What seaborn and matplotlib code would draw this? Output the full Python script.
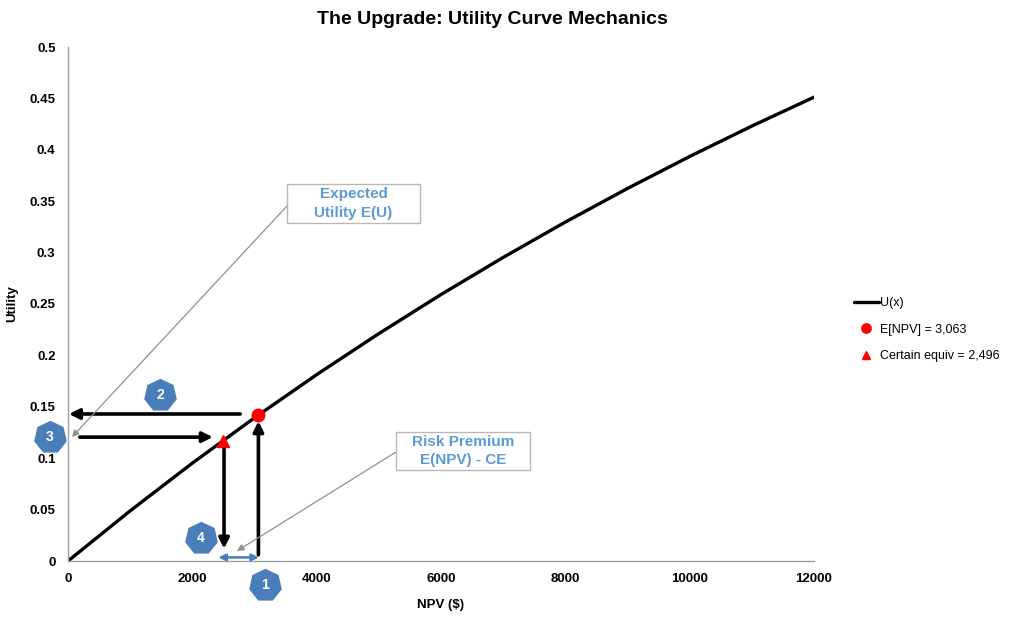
import numpy as np
import pandas as pd
import matplotlib
matplotlib.use("Agg")
import matplotlib.pyplot as plt
import seaborn as sns
from matplotlib.patches import FancyArrowPatch, Rectangle

# ---- data ----
npv_grid = [0, 1000, 2000, 3000, 4000, 5000, 6000, 7000, 8000, 9000, 10000, 11000, 12000]
utility = [0.0, 0.0488, 0.0952, 0.1393, 0.1813, 0.2212, 0.2592, 0.2953, 0.3297, 0.3624, 0.3935, 0.4231, 0.4512]
expected_npv = 3063
expected_u = 0.142
certain_equiv = 2496
ce_u = 0.117
x_ticks = [0, 2000, 4000, 6000, 8000, 10000, 12000]
y_ticks = [0, 0.05, 0.1, 0.15, 0.2, 0.25, 0.3, 0.35, 0.4, 0.45, 0.5]
y_tick_labels = ["0", "0.05", "0.1", "0.15", "0.2", "0.25", "0.3", "0.35", "0.4", "0.45", "0.5"]

sns.set_theme(style="white")
plt.rcParams['font.family'] = ['Liberation Sans', 'DejaVu Sans']
plt.rcParams['text.color'] = 'black'

W, H = 1010, 617
fig = plt.figure(figsize=(10.1, 6.17), dpi=100)
ax = fig.add_axes([68 / W, 1 - 561 / H, 746 / W, 514 / H])

df = pd.DataFrame({"NPV": npv_grid, "U": utility})
sns.lineplot(data=df, x="NPV", y="U", ax=ax, color="black", linewidth=2.4, label="U(x)")
ax.plot([expected_npv], [expected_u], 'o', color="red", markersize=9, label="E[NPV] = 3,063", zorder=5)
ax.plot([certain_equiv], [ce_u], '^', color="red", markersize=8, label="Certain equiv = 2,496", zorder=5)

ax.set_xlim(0, 12000)
ax.set_ylim(0, 0.5)
ax.set_xticks(x_ticks)
ax.set_xticklabels([str(t) for t in x_ticks], fontweight="bold", fontsize=9.5, color="black")
ax.set_yticks(y_ticks)
ax.set_yticklabels(y_tick_labels, fontweight="bold", fontsize=9.5, color="black")
ax.tick_params(length=0, pad=9)
for s in ["top", "right"]:
    ax.spines[s].set_visible(False)
for s in ["left", "bottom"]:
    ax.spines[s].set_color("#a0a0a0")
    ax.spines[s].set_linewidth(1)
ax.set_xlabel("NPV ($)", fontweight="bold", fontsize=9.5, labelpad=10, color="black")
ax.set_ylabel("Utility", fontweight="bold", fontsize=9.5, labelpad=8, color="black")
fig.text(492 / W, 1 - 19 / H, "The Upgrade: Utility Curve Mechanics", fontweight="bold",
         fontsize=14, ha="center", va="center", color="black")

leg = ax.legend(loc="center left", bbox_to_anchor=(1.038, 0.45), frameon=False, fontsize=9,
                handlelength=2.0, handletextpad=0.1, labelspacing=1.15, markerscale=0.75)

def arrow(x0, y0, x1, y1, color="black", lw=2.6, style="-|>", ms=15):
    a = FancyArrowPatch((x0, y0), (x1, y1), arrowstyle=style, mutation_scale=ms,
                        color=color, lw=lw, shrinkA=0, shrinkB=0, zorder=4, clip_on=False)
    ax.add_patch(a)

# step arrows
arrow(3063, 0.006, 3063, 0.136)          # 1 up
arrow(2770, 0.143, 15, 0.143)            # 2 left
arrow(190, 0.1205, 2330, 0.1205)         # 3 right
arrow(2510, 0.112, 2510, 0.012)          # 4 down
arrow(2420, 0.0035, 3070, 0.0035, color="#4a7ebb", lw=1.8, style="<|-|>", ms=10)

# numbered badges
blue = "#4a7ebb"
badges = [("1", 265, 585), ("2", 160, 395), ("3", 50, 437), ("4", 201, 538)]
for lab, px, py in badges:
    fx, fy = px / W, 1 - py / H
    fig.add_artist(matplotlib.lines.Line2D([fx], [fy], marker=(7, 0, 0), markersize=23,
                                           color=blue, markeredgecolor=blue, transform=fig.transFigure))
    fig.text(fx, fy, lab, color="white", fontweight="bold", fontsize=10, ha="center", va="center")

# callouts (box pixel extents)
txt_blue = "#5b9bd5"
def callout(text, x0, x1, y0, y1, start, end):
    fig.add_artist(Rectangle((x0 / W, 1 - y1 / H), (x1 - x0) / W, (y1 - y0) / H,
                             transform=fig.transFigure, fc="white", ec="#b8b8b8", lw=1, zorder=6))
    fig.text((x0 + x1) / 2 / W, 1 - (y0 + y1) / 2 / H, text, fontsize=11, fontweight="bold",
             color=txt_blue, ha="center", va="center", linespacing=1.45, zorder=7)
    a = FancyArrowPatch((start[0] / W, 1 - start[1] / H), (end[0] / W, 1 - end[1] / H),
                        transform=fig.transFigure, arrowstyle="-|>", mutation_scale=10,
                        color="#909090", lw=0.9, shrinkA=0, shrinkB=0, zorder=5)
    fig.add_artist(a)

callout("Expected\nUtility E(U)", 287, 420, 184, 223, (287, 206), (72, 437))
callout("Risk Premium\nE(NPV) - CE", 396, 530, 432, 470, (396, 452), (237, 551))

fig.savefig("out.png", dpi=100)
